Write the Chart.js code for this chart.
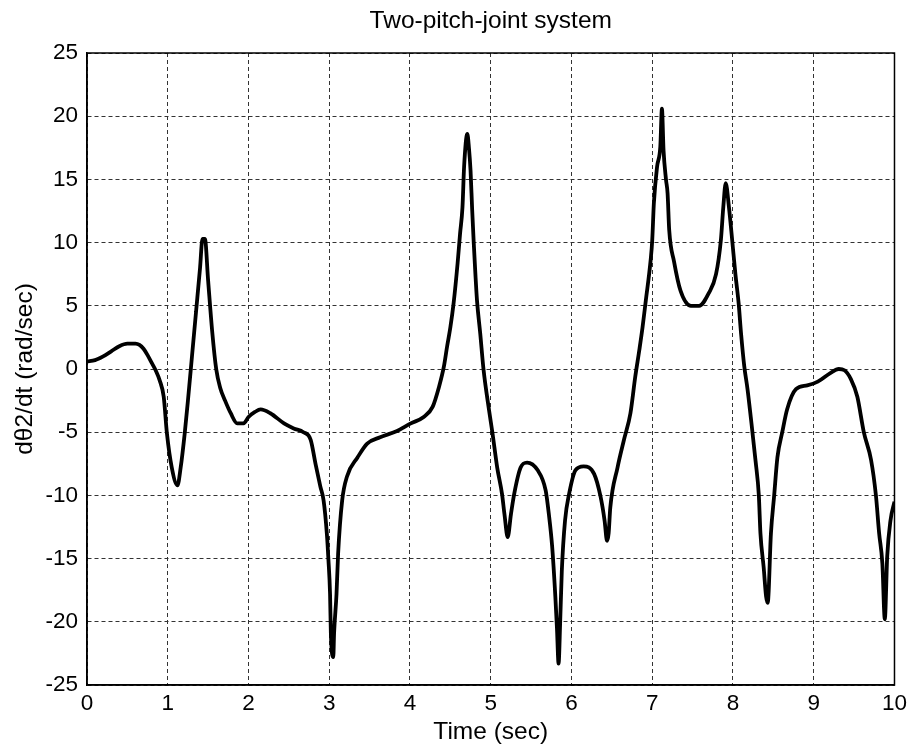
<!DOCTYPE html>
<html>
<head>
<meta charset="utf-8">
<script src="https://cdn.jsdelivr.net/npm/chart.js@4/dist/chart.umd.min.js"></script>
<style>
  html, body { margin: 0; padding: 0; background: #fff; }
  #wrap { width: 912px; height: 751px; }
</style>
</head>
<body>
<div id="wrap"><canvas id="myChart"></canvas></div>
<script>
// joint 2 angular velocity, sampled along the run
const temps = [
  0, 0.1, 0.2, 0.3, 0.4, 0.5, 0.6, 0.65, 0.7, 0.75, 0.8, 0.85, 0.9, 0.95, 0.99,
  1.05, 1.12, 1.16, 1.21, 1.25, 1.3, 1.35, 1.4, 1.43, 1.46, 1.5, 1.55, 1.6, 1.65,
  1.71, 1.78, 1.86, 1.94, 2.0, 2.08, 2.15, 2.27, 2.44, 2.56, 2.68, 2.77, 2.83,
  2.89, 2.93, 2.97, 2.99, 3.01, 3.02, 3.05, 3.06, 3.09, 3.11, 3.16, 3.22, 3.35,
  3.47, 3.63, 3.84, 4.01, 4.17, 4.28, 4.36, 4.42, 4.46, 4.5, 4.54, 4.59, 4.62,
  4.65, 4.67, 4.71, 4.73, 4.75, 4.77, 4.79, 4.81, 4.83, 4.87, 4.91, 4.98, 5.02,
  5.08, 5.14, 5.17, 5.21, 5.25, 5.29, 5.37, 5.45, 5.58, 5.68, 5.72, 5.76, 5.8,
  5.82, 5.84, 5.86, 5.88, 5.92, 5.97, 6.05, 6.15, 6.28, 6.36, 6.41, 6.44, 6.46,
  6.48, 6.57, 6.65, 6.73, 6.79, 6.84, 6.88, 6.92, 6.98, 7.0, 7.02, 7.06, 7.1,
  7.12, 7.14, 7.17, 7.19, 7.21, 7.27, 7.35, 7.48, 7.58, 7.7, 7.79, 7.85, 7.88,
  7.91, 7.95, 7.99, 8.03, 8.07, 8.1, 8.14, 8.18, 8.22, 8.28, 8.32, 8.34, 8.38,
  8.41, 8.43, 8.47, 8.51, 8.55, 8.61, 8.67, 8.78, 8.92, 9.05, 9.21, 9.31, 9.38,
  9.46, 9.54, 9.62, 9.71, 9.77, 9.81, 9.85, 9.88, 9.91, 9.95, 10
];
const vitesse = [
  0.6, 0.7, 1.0, 1.4, 1.8, 2.0, 2.0, 1.9, 1.6, 1.1, 0.5, -0.1, -0.9, -2.2, -5.1,
  -7.8, -9.2, -7.8, -5.1, -2.5, 1.0, 4.5, 8.0, 10.3, 10.3, 7.0, 3.0, 0.0, -1.5,
  -2.5, -3.5, -4.3, -4.3, -3.8, -3.4, -3.2, -3.5, -4.3, -4.7, -5.0, -5.6, -7.5,
  -9.3, -10.4, -13.0, -15.1, -17.8, -20.9, -22.8, -20.9, -17.8, -14.6, -10.4, -8.5, -7.0,
  -5.9, -5.4, -4.9, -4.3, -3.8, -3.0, -1.4, 0.2, 1.8, 3.3, 5.2, 8.4, 10.7,
  12.8, 16.0, 18.6, 17.5, 15.7, 12.6, 9.9, 7.5, 5.4, 2.8, 0.0, -3.3, -5.0,
  -7.8, -9.9, -11.5, -13.3, -11.5, -9.9, -7.8, -7.4, -8.0, -9.6, -11.5, -14.0, -18.0,
  -20.5, -23.3, -20.0, -16.0, -12.0, -9.9, -8.0, -7.7, -8.3, -10.1, -12.0, -13.6, -13.0,
  -11.0, -7.8, -5.6, -3.5, -0.6, 1.5, 3.3, 5.4, 8.6, 10.2, 13.1, 16.0, 17.6,
  20.6, 17.3, 15.0, 13.9, 11.0, 8.5, 6.2, 5.0, 5.0, 6.0, 7.5, 10.2, 12.8,
  14.7, 12.8, 10.2, 7.5, 5.2, 2.8, 0.2, -1.6, -3.8, -7.3, -10.0, -13.0, -15.7,
  -18.0, -18.5, -13.0, -10.0, -7.0, -5.0, -3.2, -1.6, -1.3, -1.0, -0.3, 0.0, -0.1,
  -0.8, -2.2, -5.0, -7.2, -10.0, -13.0, -15.4, -19.8, -14.8, -12.0, -10.5
];

const xTicks = [0, 1, 2, 3, 4, 5, 6, 7, 8, 9, 10];
const yTicks = [-25, -20, -15, -10, -5, 0, 5, 10, 15, 20, 25];

const points = temps.map((t, i) => ({ x: t, y: vitesse[i] }));

// closed box around the plot, like the axes frame
const cadre = {
  id: "cadre",
  afterDraw(chart) {
    const { ctx, chartArea: a } = chart;
    ctx.save();
    ctx.strokeStyle = "#000";
    ctx.lineWidth = 1.5;
    ctx.strokeRect(a.left, a.top, a.right - a.left, a.bottom - a.top);
    ctx.restore();
  },
};

const famille = "'Liberation Sans', Arial, sans-serif";
const policeTicks = { family: famille, size: 22.5 };
const policeTitres = { family: famille, size: 24.5 };

const config = {
  type: "line",
  data: {
    datasets: [
      {
        data: points,
        borderColor: "#000",
        borderWidth: 3.8,
        pointRadius: 0,
        cubicInterpolationMode: "monotone",
        fill: false,
      },
    ],
  },
  options: {
    responsive: false,
    animation: false,
    layout: { padding: 0 },
    plugins: {
      legend: { display: false },
      tooltip: { enabled: false },
      title: {
        display: true,
        text: "Two-pitch-joint system",
        color: "#000",
        fullSize: false,
        font: { ...policeTitres, weight: "normal" },
        padding: { top: 7, bottom: 16.6 },
      },
    },
    scales: {
      x: {
        type: "linear",
        min: 0,
        max: 10,
        afterBuildTicks: (s) => { s.ticks = xTicks.map((v) => ({ value: v })); },
        afterFit: (s) => { s.height = 66; },
        ticks: { color: "#000", font: policeTicks, padding: 5 },
        grid: { color: "#333", lineWidth: 1, drawTicks: false },
        border: { display: true, color: "#000", width: 1.5, dash: [4, 3] },
        title: {
          display: true,
          text: "Time (sec)",
          color: "#000",
          font: policeTitres,
          padding: { top: 0, bottom: 4.3 },
        },
      },
      y: {
        type: "linear",
        min: -25,
        max: 25,
        afterBuildTicks: (s) => { s.ticks = yTicks.map((v) => ({ value: v })); },
        afterFit: (s) => { s.width = 87; },
        ticks: { color: "#000", font: policeTicks, padding: 9 },
        grid: { color: "#333", lineWidth: 1, drawTicks: false },
        border: { display: true, color: "#000", width: 1.5, dash: [4, 3] },
        title: {
          display: true,
          text: "dθ2/dt (rad/sec)",
          color: "#000",
          font: policeTitres,
          padding: { top: 10.3, bottom: 0 },
        },
      },
    },
  },
  plugins: [cadre],
};

const canvas = document.getElementById("myChart");
canvas.width = 912;
canvas.height = 751;
const myChart = new Chart(canvas, config);
</script>
</body>
</html>
